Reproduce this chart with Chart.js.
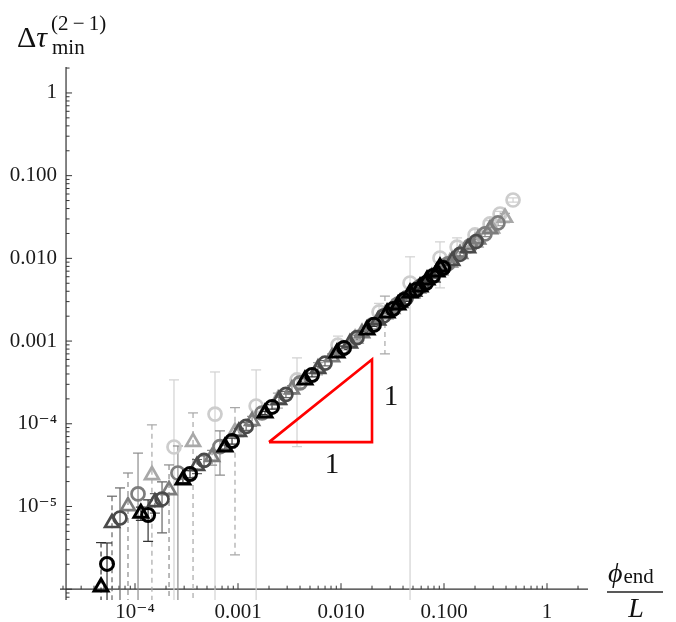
<!DOCTYPE html>
<html>
<head>
<meta charset="utf-8">
<script src="https://cdn.jsdelivr.net/npm/chart.js@4.4.0/dist/chart.umd.min.js"></script>
<style>
  html, body { margin: 0; padding: 0; background: #fff; }
  #wrap { position: relative; width: 676px; height: 622px; }
</style>
</head>
<body>
<div id="wrap"><canvas id="tauChart"></canvas></div>
<script>
// values (x = phi_end / L, y = delta tau_min)
// black
const kTriX = [4.68e-5, 1.14e-4, 2.92e-4, 7.48e-4, 1.83e-3, 4.47e-3, 9.14e-3, 1.79e-2, 2.80e-2, 3.57e-2, 4.68e-2, 5.85e-2, 6.84e-2, 8.55e-2, 9.14e-2];
const kTriY = [1.06e-6, 8.3e-6, 2.09e-5, 5.24e-5, 1.35e-4, 3.39e-4, 7.18e-4, 1.36e-3, 2.19e-3, 2.73e-3, 3.82e-3, 4.51e-3, 5.48e-3, 6.85e-3, 7.87e-3];
const kTriErr = [2.6e-6, 1.5e-6, 1.5e-6, 3e-6, 6e-6, 1.5e-5, 3e-5, 5e-5, 8e-5, 1e-4, 1.3e-4, 1.5e-4, 1.8e-4, 2.2e-4, 2.5e-4];
const kCircX = [5.35e-5, 1.34e-4, 3.42e-4, 8.75e-4, 2.14e-3, 5.23e-3, 1.07e-2, 2.09e-2, 3.20e-2, 4.09e-2, 5.35e-2, 6.69e-2, 7.82e-2, 9.78e-2];
const kCircY = [2.02e-6, 7.89e-6, 2.47e-5, 6.19e-5, 1.60e-4, 3.89e-4, 8.26e-4, 1.57e-3, 2.44e-3, 3.14e-3, 4.15e-3, 5.04e-3, 6.12e-3, 7.65e-3];
const kCircErr = [1.6e-6, 4.1e-6, 2.5e-6, 5e-6, 1e-5, 2e-5, 4e-5, 7e-5, 1e-4, 1.2e-4, 1.5e-4, 1.8e-4, 2.2e-4, 2.6e-4];
// dark grey
const dTriX = [5.98e-5, 1.56e-4, 4.00e-4, 1.02e-3, 2.50e-3, 5.98e-3, 1.22e-2, 2.29e-2, 3.74e-2, 5.12e-2, 7.64e-2, 1.20e-1, 1.71e-1];
const dTriY = [6.31e-6, 1.13e-5, 3.1e-5, 8.0e-5, 1.95e-4, 4.6e-4, 9.4e-4, 1.78e-3, 2.9e-3, 3.95e-3, 5.9e-3, 9.3e-3, 1.33e-2];
const dTriErr = [7e-6, 3e-6, 6e-6, 8e-6, 1.5e-5, 3e-5, 5e-5, 8e-5, 1.2e-4, 1.5e-4, 2e-4, 3e-4, 4e-4];
const dCircX = [7.15e-5, 1.83e-4, 4.68e-4, 1.20e-3, 2.92e-3, 6.99e-3, 1.43e-2, 2.61e-2, 4.28e-2, 6.11e-2, 1.00e-1, 1.43e-1, 2.05e-1];
const dCircY = [7.26e-6, 1.23e-5, 3.6e-5, 9.3e-5, 2.27e-4, 5.4e-4, 1.1e-3, 2.02e-3, 3.3e-3, 4.7e-3, 7.8e-3, 1.12e-2, 1.6e-2];
const dCircErr = [9.5e-6, 7.5e-6, 5e-6, 1e-5, 2e-5, 4e-5, 7e-5, 1.2e-4, 1.8e-4, 2.5e-4, 3.5e-4, 5e-4, 7e-4];
// mid grey
const mTriX = [8.55e-5, 2.14e-4, 5.60e-4, 1.37e-3, 3.34e-3, 8.18e-3, 1.60e-2, 3.13e-2, 4.89e-2, 9.14e-2, 1.43e-1, 2.14e-1, 2.80e-1];
const mTriY = [1.01e-5, 1.58e-5, 3.97e-5, 1.08e-4, 2.6e-4, 6.4e-4, 1.25e-3, 2.45e-3, 3.8e-3, 7.2e-3, 1.13e-2, 1.7e-2, 2.25e-2];
const mTriErr = [1.53e-5, 1.6e-5, 8e-6, 1.5e-5, 3e-5, 6e-5, 1e-4, 2e-4, 3e-4, 5e-4, 8e-4, 1.1e-3, 1.4e-3];
const mCircX = [1.07e-4, 2.61e-4, 6.68e-4, 1.71e-3, 4.00e-3, 1.02e-2, 2.00e-2, 3.57e-2, 5.85e-2, 1.09e-1, 1.79e-1, 2.50e-1, 3.34e-1];
const mCircY = [1.42e-5, 2.54e-5, 5.3e-5, 1.35e-4, 3.12e-4, 8.0e-4, 1.56e-3, 2.8e-3, 4.55e-3, 8.6e-3, 1.42e-2, 1.98e-2, 2.68e-2];
const mCircErr = [3.0e-5, 2.85e-5, 2.9e-5, 2e-5, 4e-5, 8e-5, 1.5e-4, 2.5e-4, 4e-4, 7e-4, 1.1e-3, 1.5e-3, 2e-3];
// light grey triangles
const lTriX = [1.46e-4, 3.66e-4, 9.35e-4, 2.44e-3, 5.98e-3, 1.37e-2, 2.67e-2, 5.59e-2, 1.14e-1, 2.00e-1, 2.92e-1, 3.91e-1];
const lTriY = [2.40e-5, 6.03e-5, 7.96e-5, 1.95e-4, 4.7e-4, 1.07e-3, 2.1e-3, 4.3e-3, 8.9e-3, 1.56e-2, 2.3e-2, 3.1e-2];
const lTriErr = [7.3e-5, 7.5e-5, 7.7e-5, 4e-5, 8e-5, 1.5e-4, 1.4e-3, 6e-4, 1.2e-3, 2e-3, 3e-3, 4e-3];
// palest circles
const pCircX = [2.39e-4, 5.98e-4, 1.50e-3, 3.74e-3, 9.35e-3, 2.34e-2, 4.68e-2, 9.14e-2, 1.34e-1, 2.00e-1, 2.80e-1, 3.50e-1, 4.68e-1];
const pCircY = [5.24e-5, 1.31e-4, 1.64e-4, 3.39e-4, 8.97e-4, 2.25e-3, 5.04e-3, 1.01e-2, 1.37e-2, 1.92e-2, 2.61e-2, 3.44e-2, 5.08e-2];
const pCircErr = [2.87e-4, 2.92e-4, 2.84e-4, 2.86e-4, 2.5e-4, 6e-4, 5.4e-3, 5.7e-3, 4e-3, 3e-3, 2.5e-3, 2.5e-3, 3e-3];

// slope-1 guide triangle
const slopeX = [2e-3, 2e-2, 2e-2, 2e-3];
const slopeY = [6e-5, 6e-5, 6e-4, 6e-5];

// ticks
const xTickVals = [1e-4, 1e-3, 1e-2, 1e-1, 1];
const xTickText = ['10⁻⁴', '0.001', '0.010', '0.100', '1'];
const yTickVals = [1e-5, 1e-4, 1e-3, 1e-2, 1e-1, 1];
const yTickText = ['10⁻⁵', '10⁻⁴', '0.001', '0.010', '0.100', '1'];

const axisCrossX = 2.14e-5;
const axisCrossY = 1e-6;
const SERIF = '"Liberation Serif", "DejaVu Serif", serif';

function pts(xs, ys) { return xs.map((v, i) => ({ x: v, y: ys[i] })); }

function markers(label, xs, ys, errs, color, barColor, shape, dashed) {
    return {
        label: label,
        data: pts(xs, ys),
        errors: errs,
        barColor: barColor,
        dashed: dashed,
        pointStyle: shape,
        pointRadius: shape === 'triangle' ? 8 : 6.5,
        pointBorderWidth: color === '#000000' ? 3 : 2.7,
        pointBorderColor: color,
        pointBackgroundColor: 'rgba(0,0,0,0)',
        showLine: false
    };
}

// error bars, drawn under the markers
const errorBars = {
    id: 'errorBars',
    beforeDatasetsDraw(chart) {
        const { ctx, chartArea, scales } = chart;
        const xs = scales.x, ys = scales.y;
        ctx.save();
        ctx.beginPath();
        ctx.rect(chartArea.left, chartArea.top, chartArea.right - chartArea.left, chartArea.bottom - chartArea.top);
        ctx.clip();
        chart.data.datasets.slice().reverse().forEach(ds => {
            if (!ds.errors) return;
            ctx.strokeStyle = ds.barColor;
            ctx.lineWidth = 1.2;
            ds.data.forEach((p, i) => {
                const e = ds.errors[i];
                const px = xs.getPixelForValue(p.x);
                const top = ys.getPixelForValue(p.y + e);
                const low = p.y - e;
                const hasLow = low > ys.min;
                const bot = hasLow ? ys.getPixelForValue(low) : chartArea.bottom;
                ctx.setLineDash(ds.dashed ? [5, 4] : []);
                ctx.beginPath();
                ctx.moveTo(px, top);
                ctx.lineTo(px, bot);
                ctx.stroke();
                ctx.setLineDash([]);
                ctx.beginPath();
                ctx.moveTo(px - 5, top); ctx.lineTo(px + 5, top);
                if (hasLow) { ctx.moveTo(px - 5, bot); ctx.lineTo(px + 5, bot); }
                ctx.stroke();
            });
        });
        ctx.restore();
    }
};

// Mathematica style axes crossing inside the frame, ticks pointing inward
const crossAxes = {
    id: 'crossAxes',
    beforeDatasetsDraw(chart) {
        const { ctx, chartArea, scales } = chart;
        const xs = scales.x, ys = scales.y;
        const ax = xs.getPixelForValue(axisCrossX);
        const ay = ys.getPixelForValue(axisCrossY);
        ctx.save();
        ctx.strokeStyle = '#333';
        ctx.lineWidth = 1.2;
        ctx.beginPath();
        ctx.moveTo(chartArea.left, ay); ctx.lineTo(chartArea.right, ay);
        ctx.moveTo(ax, chartArea.top); ctx.lineTo(ax, chartArea.bottom);
        ctx.stroke();
        ctx.lineWidth = 1;
        ctx.beginPath();
        for (let d = -7; d <= 0; d++) {
            for (let m = 1; m <= 9; m++) {
                const v = m * Math.pow(10, d);
                const len = m === 1 ? 6 : 3.5;
                if (v >= xs.min && v <= xs.max) {
                    const px = xs.getPixelForValue(v);
                    ctx.moveTo(px, ay); ctx.lineTo(px, ay - len);
                }
                if (v >= ys.min && v <= ys.max) {
                    const py = ys.getPixelForValue(v);
                    ctx.moveTo(ax, py); ctx.lineTo(ax + len, py);
                }
            }
        }
        ctx.stroke();
        ctx.restore();
    }
};

// axis titles and slope labels
const texts = {
    id: 'texts',
    afterDraw(chart) {
        const { ctx, scales } = chart;
        ctx.save();
        ctx.fillStyle = '#111';
        ctx.textBaseline = 'alphabetic';
        ctx.textAlign = 'left';
        // y title
        ctx.font = '30px ' + SERIF;
        ctx.fillText('Δ', 17, 47);
        let cx = 17 + ctx.measureText('Δ').width;
        ctx.font = 'italic 30px ' + SERIF;
        ctx.fillText('τ', cx, 47);
        cx += ctx.measureText('τ').width + 1;
        ctx.font = '21px ' + SERIF;
        ctx.fillText('min', cx + 4, 54);
        ctx.fillText('(2\u2009−\u20091)', cx + 3, 30);
        // x title
        ctx.font = 'italic 28px ' + SERIF;
        ctx.fillText('ϕ', 608, 582);
        cx = 608 + ctx.measureText('ϕ').width + 1;
        ctx.font = '21px ' + SERIF;
        ctx.fillText('end', cx, 583);
        ctx.strokeStyle = '#222';
        ctx.lineWidth = 1.3;
        ctx.beginPath(); ctx.moveTo(607, 592); ctx.lineTo(663, 592); ctx.stroke();
        ctx.font = 'italic 28px ' + SERIF;
        ctx.textAlign = 'center';
        ctx.fillText('L', 636, 617);
        // slope labels
        ctx.font = '29px ' + SERIF;
        ctx.textBaseline = 'middle';
        ctx.fillText('1', scales.x.getPixelForValue(3.06e-2), scales.y.getPixelForValue(2.11e-4));
        ctx.fillText('1', scales.x.getPixelForValue(8.18e-3), scales.y.getPixelForValue(3.18e-5));
        ctx.restore();
    }
};

const ctx = document.getElementById('tauChart').getContext('2d');
new Chart(ctx, {
    type: 'scatter',
    data: {
        datasets: [
            {
                label: 'slope',
                data: pts(slopeX, slopeY),
                showLine: true,
                borderColor: '#ff0000',
                borderWidth: 2.6,
                borderJoinStyle: 'miter',
                pointRadius: 0,
                fill: false
            },
            markers('k tri', kTriX, kTriY, kTriErr, '#000000', '#333333', 'triangle', true),
            markers('k circ', kCircX, kCircY, kCircErr, '#000000', '#333333', 'circle', false),
            markers('d tri', dTriX, dTriY, dTriErr, '#4a4a4a', '#666666', 'triangle', true),
            markers('d circ', dCircX, dCircY, dCircErr, '#4a4a4a', '#666666', 'circle', false),
            markers('m tri', mTriX, mTriY, mTriErr, '#7d7d7d', '#8c8c8c', 'triangle', true),
            markers('m circ', mCircX, mCircY, mCircErr, '#7d7d7d', '#8c8c8c', 'circle', false),
            markers('l tri', lTriX, lTriY, lTriErr, '#a8a8a8', '#a8a8a8', 'triangle', true),
            markers('p circ', pCircX, pCircY, pCircErr, '#cdcdcd', '#d2d2d2', 'circle', false)
        ]
    },
    options: {
        responsive: true,
        maintainAspectRatio: false,
        animation: false,
        events: [],
        layout: { padding: { left: 0, right: 88, top: 67, bottom: 0 } },
        plugins: {
            legend: { display: false },
            tooltip: { enabled: false }
        },
        scales: {
            x: {
                type: 'logarithmic',
                min: 1.87e-5,
                max: 2.5,
                grid: { display: false, drawTicks: false },
                border: { display: false },
                afterBuildTicks: s => { s.ticks = xTickVals.map(v => ({ value: v })); },
                afterFit: s => { s.height = 22; },
                ticks: {
                    autoSkip: false,
                    maxRotation: 0,
                    padding: 0,
                    color: '#1a1a1a',
                    font: { family: SERIF, size: 21 },
                    callback: v => { const i = xTickVals.indexOf(v); return i >= 0 ? xTickText[i] : ''; }
                }
            },
            y: {
                type: 'logarithmic',
                min: 7.4e-7,
                max: 2.06,
                grid: { display: false, drawTicks: false },
                border: { display: false },
                afterBuildTicks: s => { s.ticks = yTickVals.map(v => ({ value: v })); },
                afterFit: s => { s.width = 60; },
                ticks: {
                    autoSkip: false,
                    padding: 3,
                    color: '#1a1a1a',
                    font: { family: SERIF, size: 21 },
                    callback: v => { const i = yTickVals.indexOf(v); return i >= 0 ? yTickText[i] : ''; }
                }
            }
        }
    },
    plugins: [crossAxes, errorBars, texts]
});
</script>
</body>
</html>
